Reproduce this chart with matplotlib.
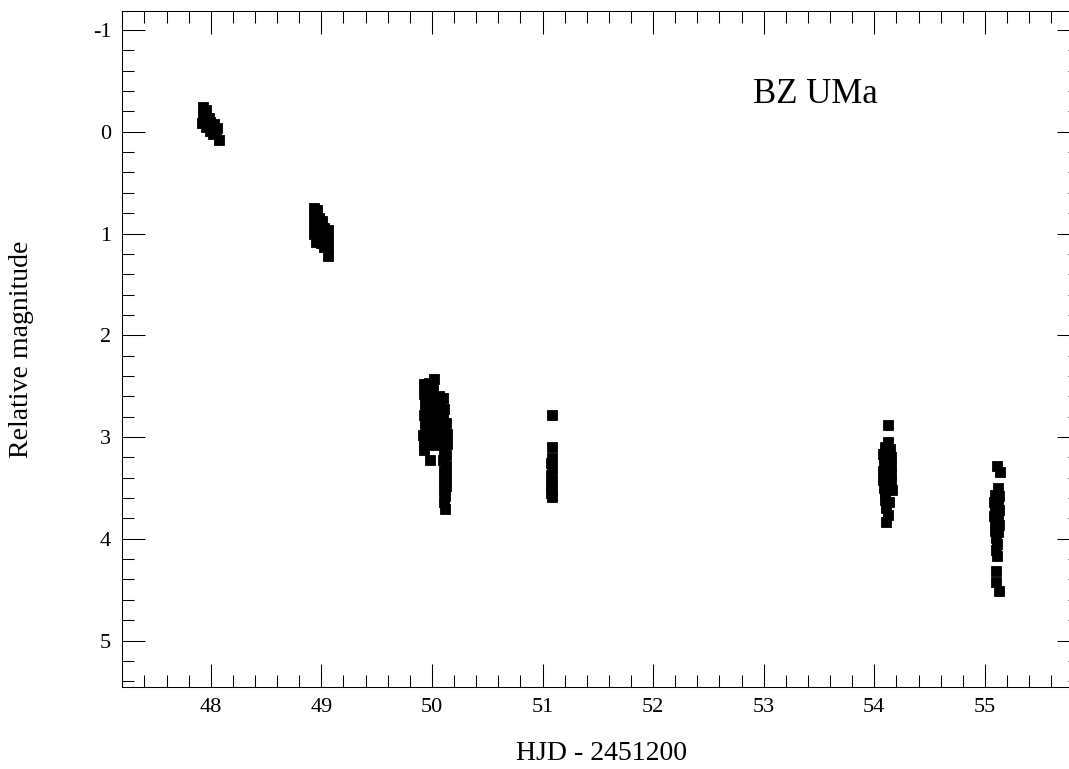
import matplotlib
matplotlib.use('Agg')
import matplotlib.pyplot as plt
from matplotlib.ticker import MultipleLocator, FuncFormatter

plt.rcParams['font.family'] = ['Liberation Serif', 'DejaVu Serif']

# BZ UMa, relative magnitude per night (HJD - 2451200)
n1_t = [47.93, 47.96, 47.93, 47.98, 47.92, 47.99, 48.03, 47.96, 48.02, 48.06, 47.99, 48.05, 48.02, 48.07,
        47.95, 48.00]
n1_m = [-0.24, -0.21, -0.16, -0.14, -0.09, -0.10, -0.08, -0.05, -0.05, -0.04, -0.01, 0.00, 0.02, 0.08,
        -0.12, -0.03]

n2_t = [48.93, 48.96, 48.93, 48.98, 49.01, 48.93, 48.97, 49.02, 49.06, 48.93, 48.98, 49.03, 49.06,
        48.95, 49.00, 49.05, 49.02, 49.06, 49.06, 48.95, 49.00]
n2_m = [0.75, 0.77, 0.83, 0.85, 0.88, 0.92, 0.93, 0.95, 0.97, 1.00, 1.01, 1.03, 1.05,
        1.08, 1.09, 1.10, 1.13, 1.14, 1.22, 0.88, 0.98]

n3_t = [49.93, 49.97, 50.02, 49.93, 49.97, 50.01, 50.06, 49.94, 49.98, 50.03, 50.07,
        49.93, 49.97, 50.02, 50.06, 49.94, 49.98, 50.03, 50.07, 49.92, 49.97, 50.02, 50.06,
        49.93, 49.98, 50.03, 49.93, 49.98,
        50.10, 50.11, 50.10, 50.13, 50.11, 50.14, 50.10, 50.14, 50.11, 50.13, 50.10,
        50.13, 50.11, 50.13, 50.11, 50.13, 50.11, 50.12, 50.11, 50.12,
        49.95, 50.00, 50.04, 49.95, 50.00, 50.05, 49.95, 50.00, 50.04, 50.09]
n3_m = [2.48, 2.47, 2.43, 2.58, 2.55, 2.52, 2.60, 2.68, 2.65, 2.66, 2.70,
        2.78, 2.75, 2.77, 2.80, 2.88, 2.86, 2.88, 2.92, 2.98, 2.96, 2.99, 3.02,
        3.07, 3.06, 3.08, 3.13, 3.23,
        2.62, 2.72, 2.82, 2.86, 2.93, 2.97, 3.03, 3.07, 3.13, 3.18, 3.23,
        3.28, 3.33, 3.38, 3.43, 3.48, 3.53, 3.58, 3.64, 3.71,
        2.52, 2.60, 2.72, 2.72, 2.82, 2.84, 2.93, 3.03, 2.95, 2.76]

n4_t = [51.09, 51.09, 51.09, 51.08, 51.09, 51.08, 51.09, 51.08, 51.09, 51.08, 51.09]
n4_m = [2.78, 3.10, 3.21, 3.26, 3.31, 3.37, 3.42, 3.47, 3.52, 3.55, 3.59]

n5_t = [54.12, 54.12, 54.10, 54.14, 54.08, 54.12, 54.15, 54.09, 54.13, 54.15, 54.08, 54.12, 54.15,
        54.08, 54.11, 54.15, 54.09, 54.13, 54.16, 54.10, 54.13, 54.11, 54.12, 54.11,
        54.11, 54.14, 54.10, 54.11]
n5_m = [2.88, 3.05, 3.10, 3.12, 3.17, 3.18, 3.20, 3.25, 3.26, 3.28, 3.33, 3.34, 3.36,
        3.42, 3.42, 3.44, 3.50, 3.51, 3.52, 3.62, 3.64, 3.70, 3.77, 3.84,
        3.30, 3.47, 3.56, 3.22]

n6_t = [55.11, 55.14, 55.12, 55.09, 55.13, 55.08, 55.12, 55.09, 55.13, 55.08, 55.12,
        55.09, 55.13, 55.09, 55.12, 55.10, 55.11, 55.10, 55.11, 55.10, 55.10, 55.13,
        55.11, 55.11]
n6_m = [3.28, 3.34, 3.50, 3.57, 3.58, 3.64, 3.65, 3.71, 3.72, 3.78, 3.79,
        3.85, 3.86, 3.92, 3.93, 3.99, 4.05, 4.11, 4.17, 4.32, 4.42, 4.51,
        3.61, 3.82]

nights = [(n1_t, n1_m), (n2_t, n2_m), (n3_t, n3_m), (n4_t, n4_m), (n5_t, n5_m), (n6_t, n6_m)]

fig = plt.figure(figsize=(10.69, 7.69), dpi=100)
ax = fig.add_axes([0.1144, 0.1062, 0.8959, 0.8799])

for t, m in nights:
    ax.plot(t, m, 's', color='black', markersize=6.6, markeredgewidth=0.6, linestyle='none')

ax.set_xlim(47.2, 55.86)
ax.set_ylim(5.46, -1.19)

ax.xaxis.set_major_locator(MultipleLocator(1))
ax.xaxis.set_minor_locator(MultipleLocator(0.2))
ax.yaxis.set_major_locator(MultipleLocator(1))
ax.yaxis.set_minor_locator(MultipleLocator(0.2))
ax.yaxis.set_major_formatter(FuncFormatter(lambda v, p: '%d' % round(v)))
ax.xaxis.set_major_formatter(FuncFormatter(lambda v, p: '%d' % round(v)))

ax.tick_params(which='both', direction='in', top=True, right=True, width=0.75,
               labelsize=16, pad=8)
ax.tick_params(which='major', length=16.5)
ax.tick_params(which='minor', length=8.6)
for s in ax.spines.values():
    s.set_linewidth(0.75)

ax.set_xlabel('HJD - 2451200', fontsize=20)
ax.set_ylabel('Relative magnitude', fontsize=20)
ax.xaxis.set_label_coords(0.5, -0.079)
ax.yaxis.set_label_coords(-0.092, 0.5)

ax.text(54.03, -0.28, 'BZ UMa', fontsize=25, ha='right', va='baseline')

fig.savefig('out.png', dpi=100)
